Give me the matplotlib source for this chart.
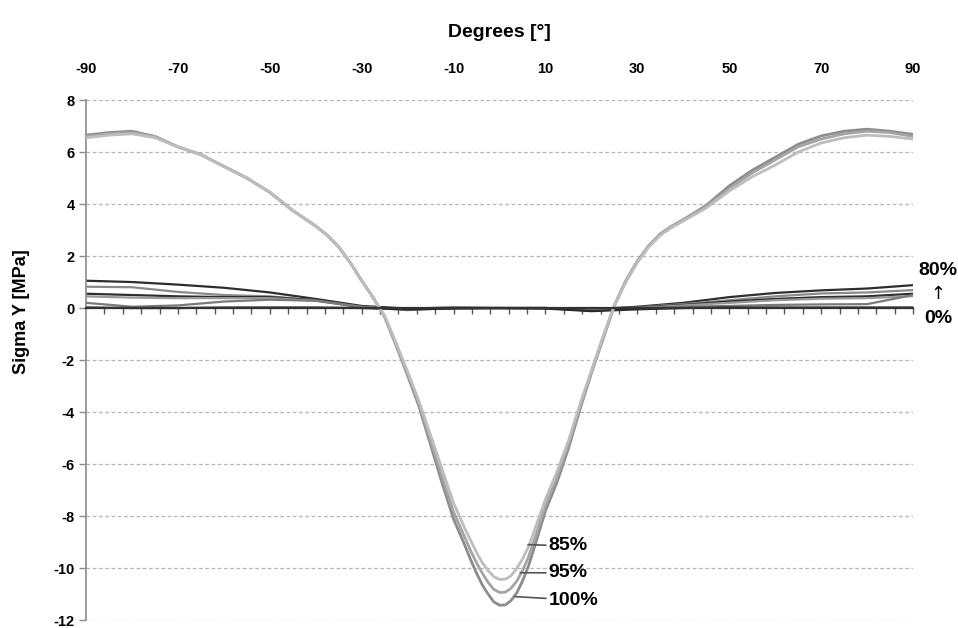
import matplotlib
matplotlib.use("Agg")
import matplotlib.pyplot as plt
import numpy as np

# angles for the three deep curves (finer near the trough)
ang = [-90, -85, -80, -75, -70, -65, -60, -55, -50, -45, -40,
       -37.5, -35, -32.5, -30, -27.5, -25, -22.5, -20, -17.5, -15, -12.5, -10, -7.5,
       -6.25, -5, -3.75, -2.5, -1.25, 0, 1.25, 2.5, 3.75, 5, 6.25,
       7.5, 10, 12.5, 15, 17.5, 20, 22.5, 25, 27.5, 30, 32.5, 35, 37.5,
       40, 45, 50, 55, 60, 65, 70, 75, 80, 85, 90]

s100 = [6.65, 6.75, 6.8, 6.6, 6.2, 5.9, 5.45, 5.0, 4.45, 3.75, 3.15,
        2.8, 2.35, 1.75, 1.05, 0.4, -0.35, -1.45, -2.6, -3.8, -5.27, -6.74, -8.12, -9.15,
        -9.7, -10.2, -10.65, -11.0, -11.3, -11.43, -11.42, -11.25, -10.95, -10.5, -9.95,
        -9.25, -7.8, -6.7, -5.4, -3.9, -2.5, -1.2, 0.1, 1.05, 1.8, 2.4, 2.85, 3.15,
        3.4, 3.95, 4.7, 5.3, 5.8, 6.3, 6.62, 6.8, 6.88, 6.8, 6.68]
s95 = [6.6, 6.7, 6.75, 6.6, 6.2, 5.9, 5.45, 5.0, 4.45, 3.75, 3.15,
       2.8, 2.35, 1.75, 1.05, 0.4, -0.33, -1.4, -2.52, -3.7, -5.1, -6.5, -7.85, -8.85,
       -9.35, -9.8, -10.2, -10.55, -10.82, -10.94, -10.93, -10.78, -10.5, -10.1, -9.6,
       -8.95, -7.6, -6.5, -5.25, -3.8, -2.45, -1.15, 0.1, 1.05, 1.8, 2.4, 2.85, 3.15,
       3.4, 3.9, 4.6, 5.2, 5.7, 6.2, 6.5, 6.7, 6.8, 6.75, 6.6]
s85 = [6.55, 6.65, 6.7, 6.55, 6.2, 5.9, 5.45, 5.0, 4.45, 3.75, 3.15,
       2.8, 2.35, 1.75, 1.05, 0.4, -0.3, -1.35, -2.45, -3.6, -4.9, -6.2, -7.5, -8.5,
       -8.95, -9.4, -9.8, -10.1, -10.33, -10.44, -10.43, -10.3, -10.02, -9.65, -9.2,
       -8.6, -7.35, -6.3, -5.1, -3.7, -2.4, -1.1, 0.1, 1.0, 1.75, 2.35, 2.8, 3.1,
       3.35, 3.85, 4.5, 5.05, 5.5, 6.0, 6.35, 6.55, 6.65, 6.6, 6.5]

# low load levels, 10 degree steps
ang_low = [-90, -80, -70, -60, -50, -40, -30, -20, -10, 0, 10, 20, 30, 40, 50, 60, 70, 80, 90]
low = {
    "80%": [1.05, 1.0, 0.9, 0.78, 0.6, 0.35, 0.08, -0.02, 0.02, 0.0, 0.0, -0.05, 0.05, 0.2, 0.42, 0.58, 0.68, 0.75, 0.88],
    "60%": [0.82, 0.8, 0.62, 0.5, 0.45, 0.3, 0.05, -0.05, 0.0, 0.0, 0.0, -0.08, 0.03, 0.15, 0.3, 0.45, 0.56, 0.6, 0.69],
    "40%": [0.55, 0.5, 0.45, 0.42, 0.42, 0.3, 0.05, -0.05, 0.0, 0.0, 0.0, -0.08, 0.02, 0.12, 0.25, 0.35, 0.42, 0.45, 0.55],
    "20%": [0.45, 0.4, 0.38, 0.38, 0.38, 0.28, 0.04, -0.06, 0.0, 0.0, 0.0, -0.1, 0.0, 0.1, 0.2, 0.3, 0.36, 0.38, 0.46],
    "10%": [0.2, 0.05, 0.1, 0.25, 0.32, 0.28, 0.03, -0.08, 0.0, 0.0, 0.0, -0.1, 0.0, 0.05, 0.08, 0.12, 0.14, 0.15, 0.5],
    "0%": [0.02, 0.0, 0.0, 0.02, 0.02, 0.02, 0.0, -0.05, -0.02, 0.0, -0.02, -0.12, -0.05, 0.0, 0.02, 0.02, 0.02, 0.02, 0.02],
}
low_colors = {"80%": "#2e2e2e", "60%": "#8a8a8a", "40%": "#2e2e2e",
              "20%": "#9a9a9a", "10%": "#7a7a7a", "0%": "#2a2a2a"}

xticks = list(range(-90, 91, 20))
yticks = list(range(-12, 9, 2))

narrow = ["Liberation Sans Narrow", "Liberation Sans", "DejaVu Sans"]
plt.rcParams['font.family'] = ["Liberation Sans", "DejaVu Sans"]

fig = plt.figure(figsize=(9.58, 6.28), dpi=100)
ax = fig.add_axes([0.0898, 0.0127, 0.8633, 0.828])

ax.set_xlim(-90, 90)
ax.set_ylim(-12, 8)

for y in yticks:
    ax.axhline(y, color="#b5b5b5", lw=0.9, ls=(0, (3, 2)), zorder=0)

for name, vals in low.items():
    ax.plot(ang_low, vals, color=low_colors[name], lw=1.6, zorder=2)

ax.plot(ang, s100, color="#8c8c8c", lw=2.0, zorder=3, solid_joinstyle="round")
ax.plot(ang, s95, color="#a4a4a4", lw=2.0, zorder=3, solid_joinstyle="round")
ax.plot(ang, s85, color="#bdbdbd", lw=2.0, zorder=3, solid_joinstyle="round")

# spines: x axis line sits at y=0
for sp in ["top", "right"]:
    ax.spines[sp].set_visible(False)
ax.spines["bottom"].set_position(("data", 0))
ax.spines["bottom"].set_color("#333333")
ax.spines["bottom"].set_linewidth(1.6)
ax.spines["bottom"].set_zorder(4)
ax.spines["left"].set_color("#8a8a8a")
ax.spines["left"].set_linewidth(1.2)

ax.set_xticks(np.arange(-86, 91, 4))
ax.tick_params(axis="x", direction="out", length=4, width=1, color="#555555", labelbottom=False)
ax.set_yticks(yticks)
ax.set_yticklabels([str(v) for v in yticks], fontweight="bold", family=narrow, fontsize=10.5)
ax.tick_params(axis="y", direction="out", length=5, width=1, color="#8a8a8a", pad=3)

top = ax.secondary_xaxis("top")
top.set_xticks(xticks)
top.set_xticklabels([str(v) for v in xticks], fontweight="bold", family=narrow, fontsize=10.5)
top.tick_params(length=0, pad=17)
top.spines["top"].set_visible(False)
top.set_xlabel("Degrees [°]", fontsize=14, fontweight="bold", labelpad=18)

ax.set_ylabel("Sigma Y [MPa]", fontsize=13, fontweight="bold")
ax.yaxis.set_label_coords(-0.068, 0.594)

# right side annotation for low loads
ax.text(95.5, 1.46, "80%", fontsize=14, fontweight="bold", ha="center", va="center", clip_on=False)
ax.text(95.5, 0.55, "↑", fontsize=13, ha="center", va="center",
        family=["DejaVu Sans"], clip_on=False)
ax.text(95.5, -0.4, "0%", fontsize=14, fontweight="bold", ha="center", va="center", clip_on=False)

# trough labels
for txt, xy, ty in [("85%", (6.2, -9.1), -9.15), ("95%", (4.5, -10.18), -10.19),
                    ("100%", (3.4, -11.1), -11.23)]:
    ax.annotate(txt, xy=xy, xytext=(10.7, ty), fontsize=14, fontweight="bold",
                ha="left", va="center",
                arrowprops=dict(arrowstyle="-", color="#555555", lw=1.2,
                                shrinkA=0, shrinkB=0))

fig.savefig("out.png", dpi=100, facecolor="white")
